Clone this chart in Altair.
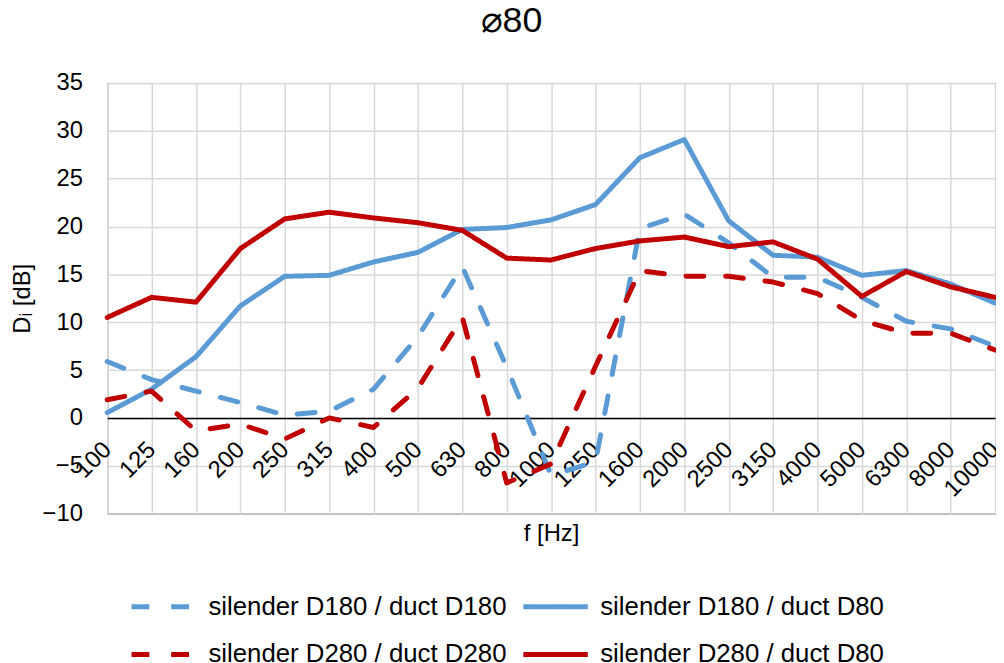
import altair as alt
import pandas as pd

freqs = ["100", "125", "160", "200", "250", "315", "400", "500", "630", "800", "1000",
         "1250", "1600", "2000", "2500", "3150", "4000", "5000", "6300", "8000", "10000"]

d180_d180 = [5.9, 4.0, 2.8, 1.6, 0.3, 0.7, 3.0, 8.5, 15.8, 5.3, -6.0,
             -4.6, 19.8, 21.3, 18.3, 14.7, 14.7, 12.6, 10.1, 9.3, 7.5]
d180_d80 = [0.55, 3.0, 6.4, 11.7, 14.8, 14.9, 16.3, 17.3, 19.7, 19.9, 20.7,
            22.3, 27.2, 29.1, 20.6, 17.0, 16.8, 14.9, 15.4, 14.0, 12.0]
d280_d280 = [1.9, 2.8, -1.35, -0.65, -2.2, 0.0, -1.0, 3.1, 10.5, -6.8, -4.8,
             5.4, 15.4, 14.8, 14.8, 14.2, 13.0, 10.2, 8.85, 8.85, 7.1]
d280_d80 = [10.5, 12.6, 12.1, 17.7, 20.8, 21.5, 20.9, 20.4, 19.6, 16.7, 16.5,
            17.7, 18.5, 18.9, 17.9, 18.4, 16.6, 12.7, 15.3, 13.7, 12.6]

series_names = ["silender D180 / duct D180", "silender D180 / duct D80",
                "silender D280 / duct D280", "silender D280 / duct D80"]
series_colors = ["#5B9BD5", "#5B9BD5", "#C00000", "#C00000"]
series_dashes = [[18, 22], [1, 0], [18, 22], [1, 0]]
y_ticks = [-10, -5, 0, 5, 10, 15, 20, 25, 30, 35]

rows = []
for name, vals in zip(series_names, [d180_d180, d180_d80, d280_d280, d280_d80]):
    for f, v in zip(freqs, vals):
        rows.append({"f": f, "Di": v, "series": name})
df = pd.DataFrame(rows)

FONT = "Liberation Sans"
W, H = 895, 434
zero_offset = -(H * 10.0 / 45.0)

legend = alt.Legend(
    title=None, orient="none", legendX=22, legendY=493, columns=2, direction="horizontal",
    columnPadding=6, rowPadding=-22, symbolType="stroke", symbolSize=4225,
    symbolStrokeWidth=5, labelFontSize=26, labelFont=FONT, labelColor="black",
    labelLimit=600, labelOffset=10, padding=0,
)

chart = alt.Chart(df).mark_line(strokeWidth=5, strokeCap="round", strokeJoin="round").encode(
    x=alt.X("f:N", sort=freqs, scale=alt.Scale(type="point", padding=0),
            axis=alt.Axis(title="f [Hz]", labelAngle=315, labelAlign="right",
                          labelBaseline="middle", labelPadding=28, ticks=False, tickSize=0,
                          labelOverlap=False, labelBound=False, labelFlush=False,
                          offset=zero_offset, domainColor="black", domainWidth=1.5,
                          grid=True, gridColor="#d9d9d9", gridWidth=1.5,
                          labelFont=FONT, labelFontSize=24, labelColor="black",
                          titleFont=FONT, titleFontSize=24, titleFontWeight="normal",
                          titleColor="black", titleY=124, titleBaseline="alphabetic")),
    y=alt.Y("Di:Q", scale=alt.Scale(domain=[-10, 35], nice=False, zero=False),
            axis=alt.Axis(values=y_ticks, title="Dᵢ [dB]", ticks=False, tickSize=0,
                          labelPadding=25, domain=False, grid=True,
                          gridColor="#d9d9d9", gridWidth=1.5, titlePadding=8,
                          labelFont=FONT, labelFontSize=24, labelColor="black",
                          titleFont=FONT, titleFontSize=24, titleFontWeight="normal",
                          titleColor="black")),
    color=alt.Color("series:N", scale=alt.Scale(domain=series_names, range=series_colors),
                    legend=legend),
    strokeDash=alt.StrokeDash("series:N", scale=alt.Scale(domain=series_names, range=series_dashes),
                              legend=legend),
).properties(
    width=W, height=H,
    title=alt.Title("⌀80", fontSize=36, font=FONT, fontWeight="normal", color="black",
                    anchor="middle", offset=31, dx=-40),
    autosize=alt.AutoSizeParams(type="none"),
    padding={"left": 100, "top": 73, "right": 1, "bottom": 150},
    background="white",
).configure_view(
    stroke="black", strokeWidth=1
)

chart.save("out.html", embed_options={"renderer": "svg", "actions": False})
